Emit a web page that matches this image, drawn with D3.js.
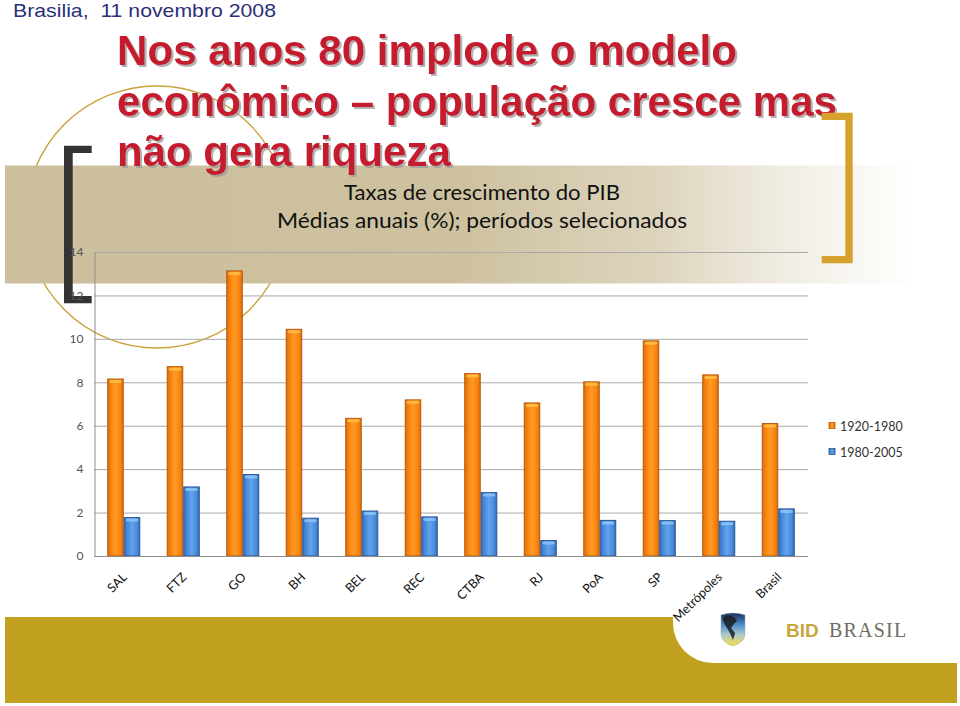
<!DOCTYPE html>
<html><head><meta charset="utf-8">
<script src="https://cdn.jsdelivr.net/npm/d3@7"></script>
<style>html,body{margin:0;padding:0;background:#fff;}svg{display:block;}</style>
</head><body>
<script>
const categories = ["SAL","FTZ","GO","BH","BEL","REC","CTBA","RJ","PoA","SP","Metrópoles","Brasil"];
const seriesNames = ["1920-1980","1980-2005"];
const values1920_1980 = [8.15, 8.72, 13.13, 10.44, 6.34, 7.19, 8.40, 7.05, 8.02, 9.91, 8.34, 6.10];
const values1980_2005 = [1.77, 3.18, 3.75, 1.74, 2.07, 1.80, 2.92, 0.71, 1.64, 1.63, 1.60, 2.17];
const yTicks = [0, 2, 4, 6, 8, 10, 12, 14];
const dateLine = "Brasilia,  11 novembro 2008";
const titleLines = ["Nos anos 80 implode o modelo", "econômico – população cresce mas", "não gera riqueza"];
const chartTitle = ["Taxas de crescimento do PIB", "Médias anuais (%); períodos selecionados"];

const W = 960, H = 706;
const svg = d3.select("body").append("svg").attr("width", W).attr("height", H);
const defs = svg.append("defs");

// gradients
const band = defs.append("linearGradient").attr("id","bandG").attr("x1","0").attr("x2","1").attr("y1","0").attr("y2","0");
[[0,"#cbbf9d"],[0.5,"#cdc19f"],[0.72,"#ddd4bd"],[0.86,"#f0ece2"],[1,"#fefefd"]].forEach(([o,c])=>band.append("stop").attr("offset",o).attr("stop-color",c));
function barGrad(id, dark, mid, light){
  const g = defs.append("linearGradient").attr("id",id).attr("x1","0").attr("x2","1").attr("y1","0").attr("y2","0");
  [[0,dark],[0.25,mid],[0.5,light],[0.8,mid],[1,dark]].forEach(([o,c])=>g.append("stop").attr("offset",o).attr("stop-color",c));
}
barGrad("orG","#e06c0c","#f9860f","#ff9a26");
barGrad("blG","#3570c2","#4b8ddc","#61a3ec");
const shieldG = defs.append("linearGradient").attr("id","shG").attr("x1","0").attr("x2","0").attr("y1","0").attr("y2","1");
[[0,"#1b2d5e"],[0.35,"#4d8cc8"],[0.65,"#a9c9cc"],[0.85,"#d9d67a"],[1,"#f3e236"]].forEach(([o,c])=>shieldG.append("stop").attr("offset",o).attr("stop-color",c));
const sh = defs.append("filter").attr("id","tshadow").attr("x","-5%").attr("y","-20%").attr("width","110%").attr("height","150%");
sh.append("feDropShadow").attr("dx",2).attr("dy",2).attr("stdDeviation",0.6).attr("flood-color","#9a9a9a").attr("flood-opacity",0.75);

// decorative circle (behind band)
svg.append("circle").attr("cx",157).attr("cy",217).attr("r",131)
  .attr("fill","none").attr("stroke","#c9a23c").attr("stroke-width",1.4);

// tan band
svg.append("rect").attr("x",5).attr("y",165.5).attr("width",903).attr("height",118).attr("fill","url(#bandG)");

// date line
svg.append("text").attr("x",13).attr("y",17).attr("font-family","Liberation Sans, Arial, sans-serif")
  .attr("font-size",19).attr("fill","#2b2f78").attr("xml:space","preserve")
  .attr("textLength",263).attr("lengthAdjust","spacingAndGlyphs").text(dateLine);

// main title with shadow
const tBase = [65, 115.5, 166];
const tLen = [620, 720, null];
titleLines.forEach((t,i)=>{
  const el = svg.append("text").attr("x",117).attr("y",tBase[i]).attr("font-family","Liberation Sans, Arial, sans-serif")
    .attr("font-weight","bold").attr("font-size",42).attr("fill","#c41f2d").attr("filter","url(#tshadow)").text(t);
  if (tLen[i]) el.attr("textLength",tLen[i]).attr("lengthAdjust","spacingAndGlyphs");
});

// brackets
svg.append("path").attr("d","M91.7,145.7 H64 V303.3 H91.7 V296 H72.7 V153 H91.7 Z").attr("fill","#333333");
svg.append("path").attr("d","M821.7,112.7 H852.7 V263.3 H821.7 V256 H845.3 V120 H821.7 Z").attr("fill","#d6a12c");

// chart
const x = d3.scaleBand().domain(categories).range([94, 808]).paddingInner(0.445).paddingOuter(0.2225);
const xs = d3.scaleBand().domain(seriesNames).range([0, x.bandwidth()]);
const y = d3.scaleLinear().domain([0, 14]).range([556, 252]);

const grid = svg.append("g");
grid.selectAll("line").data(yTicks.filter(d=>d>0)).join("line")
  .attr("x1",94).attr("x2",808).attr("y1",d=>y(d)+0.5).attr("y2",d=>y(d)+0.5)
  .attr("stroke","#a9a9a9").attr("stroke-width",1);

const yAxis = svg.append("g").attr("transform","translate(94.5,0)")
  .call(d3.axisLeft(y).tickValues(yTicks).tickSize(0).tickPadding(11).tickFormat(d3.format("d")));
yAxis.select(".domain").attr("stroke","#8c8c8c");
yAxis.selectAll("text").attr("font-family","Lato, 'Open Sans', sans-serif").attr("font-size",12).attr("fill","#555");

const data = categories.map((c,i)=>({c, v:[values1920_1980[i], values1980_2005[i]]}));
const fills = ["url(#orG)","url(#blG)"];
const strokes = ["#b5590a","#2a5593"];
const caps = ["#ffc04a","#8cc4fa"];
const groups = svg.append("g").selectAll("g").data(data).join("g").attr("transform",d=>`translate(${x(d.c)},0)`);
seriesNames.forEach((s,si)=>{
  groups.append("rect").attr("x",xs(s)+0.5).attr("width",xs.bandwidth()-1)
    .attr("y",d=>y(d.v[si])).attr("height",d=>y(0)-y(d.v[si]))
    .attr("fill",fills[si]).attr("stroke",strokes[si]).attr("stroke-width",1);
  groups.append("rect").attr("x",xs(s)+2).attr("width",xs.bandwidth()-4)
    .attr("y",d=>y(d.v[si])+1).attr("height",3).attr("rx",1.5)
    .attr("fill",caps[si]).attr("opacity",0.85);
});

// bottom axis line
svg.append("line").attr("x1",94).attr("x2",808).attr("y1",y(0)+0.5).attr("y2",y(0)+0.5).attr("stroke","#8c8c8c");

// x labels
svg.append("g").selectAll("text").data(categories).join("text")
  .attr("transform",d=>`translate(${x(d)+x.bandwidth()/2+4},578) rotate(-45)`)
  .attr("text-anchor","end").attr("font-family","Lato, 'Open Sans', sans-serif").attr("font-size",12.5).attr("fill","#111")
  .text(d=>d);

// chart title
const ctX = [[344,276],[277,410]];
chartTitle.forEach((t,i)=>{
  svg.append("text").attr("x",ctX[i][0]).attr("y",[200,228][i])
    .attr("font-family","Lato, 'Open Sans', sans-serif").attr("font-size",21.5).attr("fill","#111")
    .attr("textLength",ctX[i][1]).attr("lengthAdjust","spacingAndGlyphs").text(t);
});

// legend
const leg = svg.append("g");
seriesNames.forEach((s,i)=>{
  leg.append("rect").attr("x",829).attr("y",422.5+i*26).attr("width",6).attr("height",6)
    .attr("fill",fills[i]).attr("stroke",strokes[i]).attr("stroke-width",0.8);
  leg.append("text").attr("x",840).attr("y",430.5+i*26).attr("font-family","Lato, 'Open Sans', sans-serif")
    .attr("font-size",12.5).attr("fill","#333").text(s);
});

// bottom gold band
svg.append("path").attr("d","M5,617 H673 V623 A40,40 0 0 0 713,663 H957 V703 H5 Z").attr("fill","#c1a01f");

// logo
svg.append("path").attr("d","M721,615 Q733,611 745,615 L745,634 Q745,642 733,646 Q721,642 721,634 Z").attr("fill","url(#shG)").attr("stroke","#9aa").attr("stroke-width",0.5);
svg.append("path").attr("d","M723,617 Q728,614 734,617 L737,621 Q733,624 731,628 L735,633 L733,640 L730,633 L727,628 Q724,624 723,620 Z").attr("fill","#1b1b20").attr("opacity",0.85);
svg.append("text").attr("x",786).attr("y",637).attr("font-family","Liberation Sans, Arial, sans-serif").attr("font-weight","bold")
  .attr("font-size",19).attr("fill","#c8a63a").text("BID");
svg.append("text").attr("x",829).attr("y",637).attr("font-family","Liberation Serif, 'DejaVu Serif', serif")
  .attr("font-size",20).attr("letter-spacing",1.2).attr("fill","#6e6e60").text("BRASIL");
</script>
</body></html>
